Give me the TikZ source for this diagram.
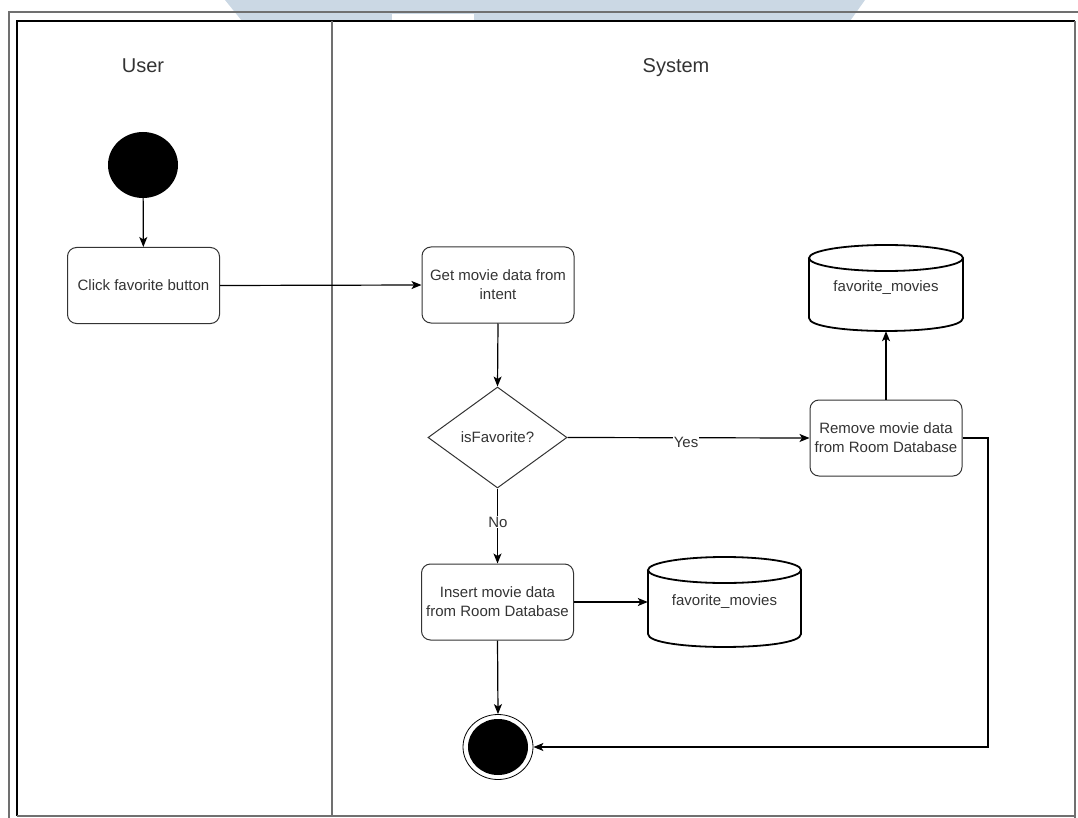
\documentclass[tikz,border=0pt]{standalone}
\usepackage{fontspec}
\setmainfont{Liberation Sans}
\usetikzlibrary{arrows.meta,shapes.geometric}
\definecolor{txt}{HTML}{333333}
\definecolor{frame}{HTML}{707070}
\definecolor{wm}{HTML}{CBD8E4}
\tikzset{
  body/.style={font=\fontsize{15}{19}\selectfont, text=txt},
  act/.style={body, rectangle, rounded corners=9pt, draw=txt, line width=1pt,
    minimum width=152pt, minimum height=76pt, align=center, inner sep=2pt},
  dec/.style={body, diamond, draw=txt, line width=1pt, minimum width=139pt,
    minimum height=101pt, inner sep=0pt, aspect=1.38},
  dbnode/.style={body, rectangle, draw=none, inner sep=0pt},
  lbl/.style={body, fill=white, inner sep=1pt},
  flow/.style={line width=1.2pt, -{Stealth[length=10pt,width=8pt,inset=2.5pt]}},
  plain/.style={line width=1.2pt},
  head/.style={font=\fontsize{20}{24}\selectfont, text=txt, anchor=base},
}
\begin{document}
\begin{tikzpicture}[x=1pt,y=-1pt]
\useasboundingbox (0,0) rectangle (1078,818);
% watermark remnant
\fill[wm] (225,0) -- (865,0) -- (850,21) -- (242,21) -- cycle;
\fill[white] (392,14) rectangle (474,20);
% outer frame
\draw[frame, line width=1.5pt] (9,818) -- (9,12) -- (1078,12);
% inner frame
\draw[black, line width=1.2pt] (17,816) -- (17,21) -- (1075,21);
\draw[frame, line width=1.5pt] (17,816) -- (1075,816);
\draw[frame, line width=2pt] (1075,21) -- (1075,818);
\draw[frame, line width=1.2pt] (332,21) -- (332,816);
% lane headings
\node[head] (hu) at (143,73) {User};
\node[head] (hs) at (676,73) {System};
% nodes
\node[ellipse, fill=black, minimum width=70pt, minimum height=66pt, inner sep=0pt] (st) at (143,165) {};
\node[act] (click) at (143.5,285.5) {Click favorite button};
\node[act] (get) at (498,285) {Get movie data from\\intent};
\node[dec] (isf) at (497.5,437.5) {isFavorite?};
\node[act] (rem) at (886,438) {Remove movie data\\from Room Database};
\node[act] (ins) at (497.5,602) {Insert movie data\\from Room Database};
\node[dbnode, minimum width=154pt, minimum height=86pt] (db1) at (886,288) {favorite\_movies};
\node[dbnode, minimum width=153pt, minimum height=90pt] (db2) at (724.5,602) {favorite\_movies};
\node[ellipse, draw=black, line width=0.8pt, minimum width=70pt, minimum height=65pt, inner sep=0pt] (endc) at (498,747) {};
\node[ellipse, fill=black, minimum width=60pt, minimum height=56pt, inner sep=0pt] (endin) at (498,747) {};
% cylinders
\draw[black, line width=1.8pt] (809,258) -- (809,318) .. controls (809,335.3) and (963,335.3) .. (963,318) -- (963,258);
\draw[black, line width=1.8pt] (886,258) ellipse [x radius=77, y radius=13];
\draw[black, line width=1.8pt] (648,570) -- (648,634) .. controls (648,651.3) and (801,651.3) .. (801,634) -- (801,570);
\draw[black, line width=1.8pt] (724.5,570) ellipse [x radius=76.5, y radius=13];
% connectors
\coordinate (c2) at (988,747);
\draw[flow] (st) -- (click);
\draw[flow] (click.east) -- (get.west);
\draw[flow] (get.south) -- (isf.north);
\draw[flow] (isf.east) -- (rem.west);
\node[lbl] (yes) at (686,442) {Yes};
\draw[flow] (isf.south) -- (ins.north);
\node[lbl] (no) at (498,522) {No};
\draw[flow] (rem.north) -- (db1.south);
\draw[flow] (ins.east) -- (db2.west);
\draw[flow] (ins.south) -- (endc.north);
\draw[flow] (rem.east) -| (c2) -- (endc.east);
\end{tikzpicture}
\end{document}
